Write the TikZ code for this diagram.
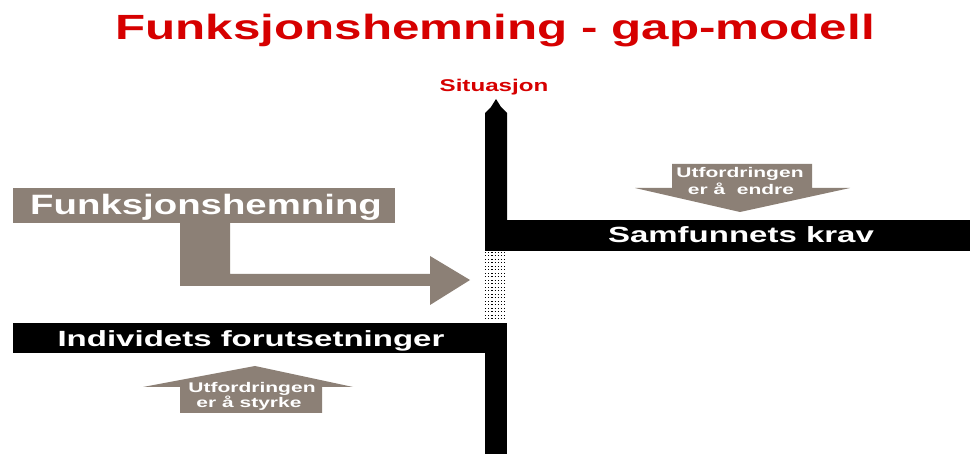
\documentclass[tikz,border=0pt]{standalone}
\usepackage{fontspec}
\setmainfont{Liberation Sans}
\usepackage{graphicx}
\definecolor{gapred}{RGB}{214,0,0}
\definecolor{gapgray}{RGB}{140,128,118}
\newcommand{\sx}[2]{\scalebox{#1}[1]{#2}}
\tikzset{
  lbl/.style={anchor=base, inner sep=0pt, font=\bfseries},
  bar/.style={fill=black},
  grayshape/.style={fill=gapgray},
}
\begin{document}
\begin{tikzpicture}[x=1pt,y=-1pt]
\useasboundingbox (0,0) rectangle (970,454);
\fill[white] (0,0) rectangle (970,454);
% title
\node[lbl, text=gapred, font=\bfseries\fontsize{35}{40}\selectfont] (title) at (495,40) {\sx{1.41}{Funksjonshemning - gap-modell}};
% situation axis
\fill[bar] (485,251) -- (485,113) -- (491,107) -- (496,99) -- (501,107) -- (507,113) -- (507,251) -- cycle;
\coordinate (axistip) at (496,99);
\node[lbl, text=gapred, font=\bfseries\fontsize{17}{20}\selectfont] (sit) at (494,92) {\sx{1.42}{Situasjon}};
% gap hatch
\foreach \yy in {252,255.5,...,321}
  \draw[line width=0.9pt, dash pattern=on 1.2pt off 2pt] (485,\yy) -- (507,\yy);
\fill[bar] (485,323) rectangle (507,454);
% bars
\fill[bar] (507,220) rectangle (970,251);
\coordinate (samf) at (738,235);
\node[lbl, text=white, font=\bfseries\fontsize{22}{24}\selectfont] (samftext) at (741,243) {\sx{1.5}{Samfunnets krav}};
\fill[bar] (13,323) rectangle (507,353);
\node[lbl, text=white, font=\bfseries\fontsize{22}{24}\selectfont] (indtext) at (251,347) {\sx{1.5}{Individets forutsetninger}};
% Funksjonshemning box and arrow
\fill[grayshape] (13,188) rectangle (395,223);
\node[lbl, anchor=base west, text=white, font=\bfseries\fontsize{28}{30}\selectfont] (funk) at (30,215) {\sx{1.37}{Funksjonshemning}};
\fill[grayshape] (180,222) -- (230,222) -- (230,274) -- (430,274) -- (430,256) -- (470,280) -- (430,305) -- (430,286) -- (180,286) -- cycle;
% down arrow
\fill[grayshape] (672,164) -- (812,164) -- (812,188) -- (850,188) -- (740,212) -- (635,188) -- (672,188) -- cycle;
\node[lbl, text=white, font=\bfseries\fontsize{14}{15}\selectfont] (ut1) at (740,178) {\sx{1.5}{Utfordringen}};
\node[lbl, text=white, font=\bfseries\fontsize{14}{15}\selectfont] (ut2) at (741,195) {\sx{1.5}{er å\ \ endre}};
% up arrow
\fill[grayshape] (180,413) -- (322,413) -- (322,387) -- (353,387) -- (255,366) -- (143,387) -- (180,387) -- cycle;
\node[lbl, text=white, font=\bfseries\fontsize{14}{15}\selectfont] (ut3) at (252,393) {\sx{1.5}{Utfordringen}};
\node[lbl, text=white, font=\bfseries\fontsize{14}{15}\selectfont] (ut4) at (249,408) {\sx{1.5}{er å styrke}};
\end{tikzpicture}
\end{document}
